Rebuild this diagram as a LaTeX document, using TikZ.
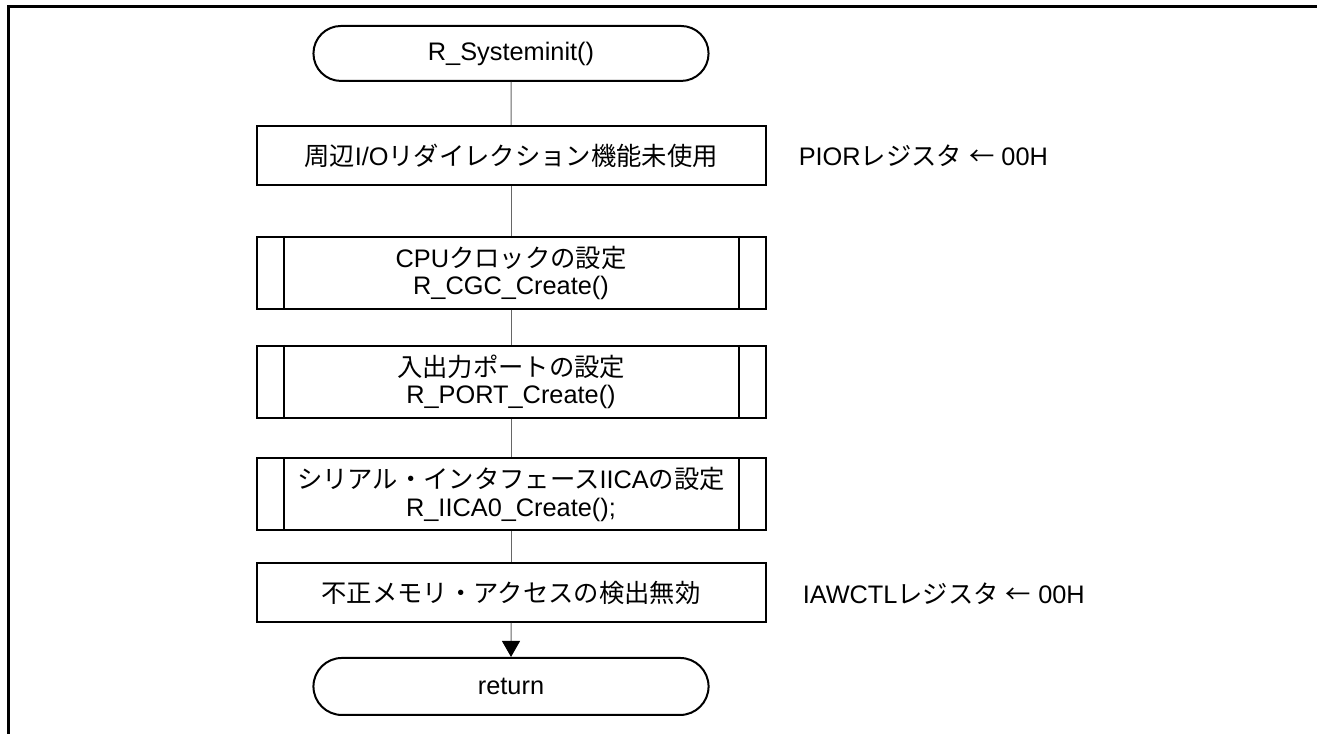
\documentclass[tikz,border=0pt]{standalone}
\usepackage{fontspec}
\setmainfont{Liberation Sans}
\newfontfamily\jpfont{Noto Sans CJK JP}
\usepackage{tikz}
\usetikzlibrary{shapes.misc, arrows.meta, positioning}
\tikzstyle{startstop} = [rounded rectangle,
minimum width=303pt,
minimum height=41.25pt,
text centered,
draw=black,
line width=1.5pt]
\tikzstyle{process} = [rectangle,
minimum width=381.75pt,
minimum height=44.25pt,
text centered,
draw=black,
line width=1.5pt]
\tikzstyle{subprocess} = [process,
minimum height=54pt,
align=center]
\tikzstyle{note} = [inner sep=0pt]
\tikzstyle{line} = [line width=0.75pt, draw=black!60]
\tikzstyle{arrow} = [line, -{Triangle[width=13.5pt, length=12pt, color=black, fill=black]}]
\tikzstyle{frame} = [line width=2.25pt]

\begin{document}
\begin{tikzpicture}[node distance=2cm, font=\fontsize{19}{20.5}\selectfont]
\useasboundingbox (0,0) rectangle (987.75pt,-550.5pt);
\draw [frame] (6pt,-550.5pt) -- (6pt,-5.25pt) -- (987.75pt,-5.25pt);

\node (start) [startstop] at (383.25pt,-40.1pt) {R\_Systeminit()};
\node (pior) [process, below of=start, node distance=76.5pt] {{\jpfont 周辺}I/O{\jpfont リダイレクション機能未使用}};
\node (cgc) [subprocess, below of=pior, node distance=88.1pt] {CPU{\jpfont クロックの設定}\\R\_CGC\_Create()};
\node (port) [subprocess, below of=cgc, node distance=81.75pt] {{\jpfont 入出力ポートの設定}\\R\_PORT\_Create()};
\node (iica) [subprocess, below of=port, node distance=84.4pt] {{\jpfont シリアル・インタフェース}IICA{\jpfont の設定}\\R\_IICA0\_Create();};
\node (iawctl) [process, below of=iica, node distance=73.5pt] {{\jpfont 不正メモリ・アクセスの検出無効}};
\node (ret) [startstop, below of=iawctl, node distance=70.5pt, minimum height=42.75pt] {return};

\node (piornote) [note, right=24pt of pior] {PIOR{\jpfont レジスタ} {\jpfont ←} 00H};
\node (iawctlnote) [note, right=27pt of iawctl, yshift=-1pt] {IAWCTL{\jpfont レジスタ} {\jpfont ←} 00H};

% side bars of the sub-routine boxes
\foreach \n in {cgc, port, iica} {
\draw [line width=1.5pt] ([xshift=21pt]\n.north west) -- ([xshift=21pt]\n.south west);
\draw [line width=1.5pt] ([xshift=-21pt]\n.north east) -- ([xshift=-21pt]\n.south east);
}

\draw [line] (start) -- (pior);
\draw [line] (pior) -- (cgc);
\draw [line] (cgc) -- (port);
\draw [line] (port) -- (iica);
\draw [line] (iica) -- (iawctl);
\draw [arrow] (iawctl) -- (ret);

\end{tikzpicture}
\end{document}
